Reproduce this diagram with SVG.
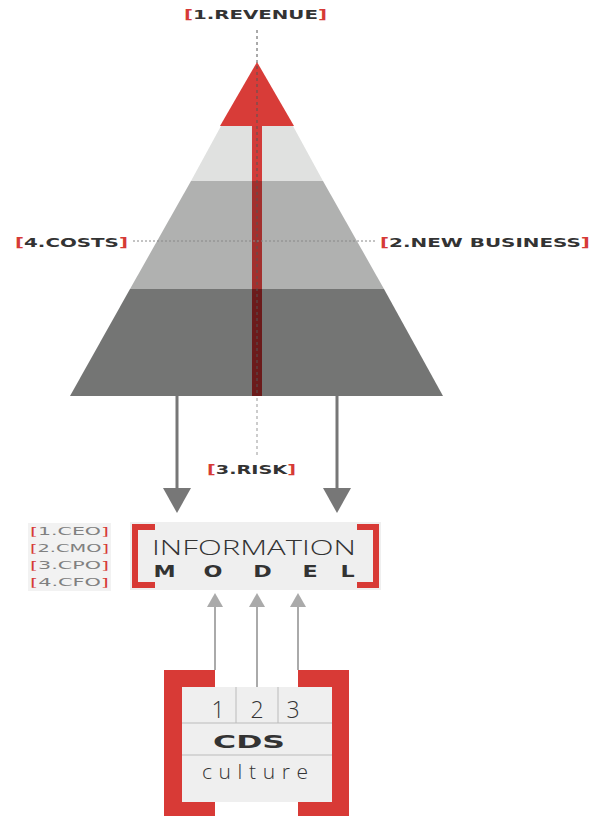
<svg xmlns="http://www.w3.org/2000/svg" width="591" height="816" viewBox="0 0 591 816">
<defs>
<style>
.lbl{font-family:"DejaVu Sans","Liberation Sans",sans-serif;font-weight:bold;fill:#333;}
.br{fill:#d63a36;}
.role{font-family:"DejaVu Sans","Liberation Sans",sans-serif;font-size:10.5px;fill:#808080;}
.thin{font-family:"Open Sans","Roboto","DejaVu Sans",sans-serif;font-weight:300;fill:#333;}
.bold{font-family:"DejaVu Sans","Liberation Sans",sans-serif;font-weight:bold;fill:#333;}
.down{stroke:#777;stroke-width:3;fill:none;}
.up{stroke:#aaa;stroke-width:2;fill:none;}
.red{fill:#d83a36;}
.div{stroke:#bbb;stroke-width:1;}
</style>
</defs>
<rect width="591" height="816" fill="#fff"/>

<g id="pyramid">
<polygon points="221,126 293,126 323,181 191,181" fill="#e0e1e0"/>
<polygon points="191,181 323,181 384,289 130,289" fill="#b0b1b0"/>
<polygon points="130,289 384,289 443,396 70,396" fill="#747574"/>
<polygon points="257,62 220,126 294,126" fill="#d83c38"/>
<rect x="252" y="126" width="10" height="55" fill="#d23c3a"/>
<rect x="252" y="181" width="10" height="108" fill="#a2302e"/>
<rect x="252" y="289" width="10" height="107" fill="#6b1b1b"/>
</g>

<g id="guides">
<line x1="257" y1="30" x2="257" y2="396" stroke="#555" stroke-width="1" stroke-dasharray="3,3"/>
<line x1="257" y1="398" x2="257" y2="458" stroke="#999" stroke-width="1" stroke-dasharray="3,3"/>
<line x1="133" y1="241" x2="377" y2="241" stroke="#888" stroke-width="1" stroke-dasharray="2,2"/>
</g>

<g id="revenue"><text class="lbl" x="184" y="19" font-size="12.5" textLength="143" lengthAdjust="spacingAndGlyphs"><tspan class="br">[</tspan>1.REVENUE<tspan class="br">]</tspan></text></g>
<g id="costs"><text class="lbl" x="15" y="246.5" font-size="12.5" textLength="113" lengthAdjust="spacingAndGlyphs"><tspan class="br">[</tspan>4.COSTS<tspan class="br">]</tspan></text></g>
<g id="newbusiness"><text class="lbl" x="380" y="246.5" font-size="12.5" textLength="210" lengthAdjust="spacingAndGlyphs"><tspan class="br">[</tspan>2.NEW BUSINESS<tspan class="br">]</tspan></text></g>
<g id="risk"><text class="lbl" x="207" y="474" font-size="12.5" textLength="89" lengthAdjust="spacingAndGlyphs"><tspan class="br">[</tspan>3.RISK<tspan class="br">]</tspan></text></g>

<g id="connectors">
<line class="down" x1="177" y1="396" x2="177" y2="490"/>
<polygon points="163,488 191,488 177,513" fill="#777"/>
<line class="down" x1="337" y1="396" x2="337" y2="490"/>
<polygon points="323,488 351,488 337,513" fill="#777"/>
<line class="up" x1="215" y1="606" x2="215" y2="670"/>
<polygon points="207,607 223,607 215,593" fill="#aaa"/>
<line class="up" x1="257" y1="606" x2="257" y2="687"/>
<polygon points="249,607 265,607 257,593" fill="#aaa"/>
<line class="up" x1="298" y1="606" x2="298" y2="670"/>
<polygon points="290,607 306,607 298,593" fill="#aaa"/>
</g>

<g id="roles">
<rect x="28" y="523" width="83" height="68" fill="#f2f2f2"/>
<text class="role" x="30" y="535" textLength="79" lengthAdjust="spacingAndGlyphs"><tspan class="br">[</tspan>1.CEO<tspan class="br">]</tspan></text>
<text class="role" x="30" y="552" textLength="79" lengthAdjust="spacingAndGlyphs"><tspan class="br">[</tspan>2.CMO<tspan class="br">]</tspan></text>
<text class="role" x="30" y="569" textLength="79" lengthAdjust="spacingAndGlyphs"><tspan class="br">[</tspan>3.CPO<tspan class="br">]</tspan></text>
<text class="role" x="30" y="586" textLength="79" lengthAdjust="spacingAndGlyphs"><tspan class="br">[</tspan>4.CFO<tspan class="br">]</tspan></text>
</g>

<g id="information-model">
<rect x="130" y="522" width="251" height="68" fill="#efefef"/>
<path class="red" d="M132,524 H155 V530 H138 V582 H155 V588 H132 Z"/>
<path class="red" d="M379,524 H357 V530 H373 V582 H357 V588 H379 Z"/>
<text class="thin" x="152" y="555" font-size="21" textLength="204" lengthAdjust="spacingAndGlyphs">INFORMATION</text>
<g class="bold" font-size="16.5" text-anchor="middle">
<text transform="translate(164.5,577) scale(1.35,1)">M</text>
<text transform="translate(213,577) scale(1.35,1)">O</text>
<text transform="translate(262.5,577) scale(1.35,1)">D</text>
<text transform="translate(310,577) scale(1.35,1)">E</text>
<text transform="translate(347.5,577) scale(1.35,1)">L</text>
</g>
</g>

<g id="cds">
<rect x="182" y="687" width="150" height="115" fill="#efefef"/>
<path class="red" d="M164,670 H215 V687 H182 V802 H215 V816 H164 Z"/>
<path class="red" d="M349,670 H298 V687 H332 V802 H298 V816 H349 Z"/>
<line class="div" x1="182" y1="723" x2="332" y2="723"/>
<line class="div" x1="182" y1="755" x2="332" y2="755"/>
<line class="div" x1="236" y1="687" x2="236" y2="723"/>
<line class="div" x1="278" y1="687" x2="278" y2="723"/>
<text class="thin" x="218" y="718" font-size="23" text-anchor="middle">1</text>
<text class="thin" x="257" y="718" font-size="23" text-anchor="middle">2</text>
<text class="thin" x="293" y="718" font-size="23" text-anchor="middle">3</text>
<text class="bold" x="213" y="748" font-size="18" textLength="72" lengthAdjust="spacingAndGlyphs">CDS</text>
<text class="thin" x="202" y="779" font-size="21" textLength="106" lengthAdjust="spacing">culture</text>
</g>
</svg>
